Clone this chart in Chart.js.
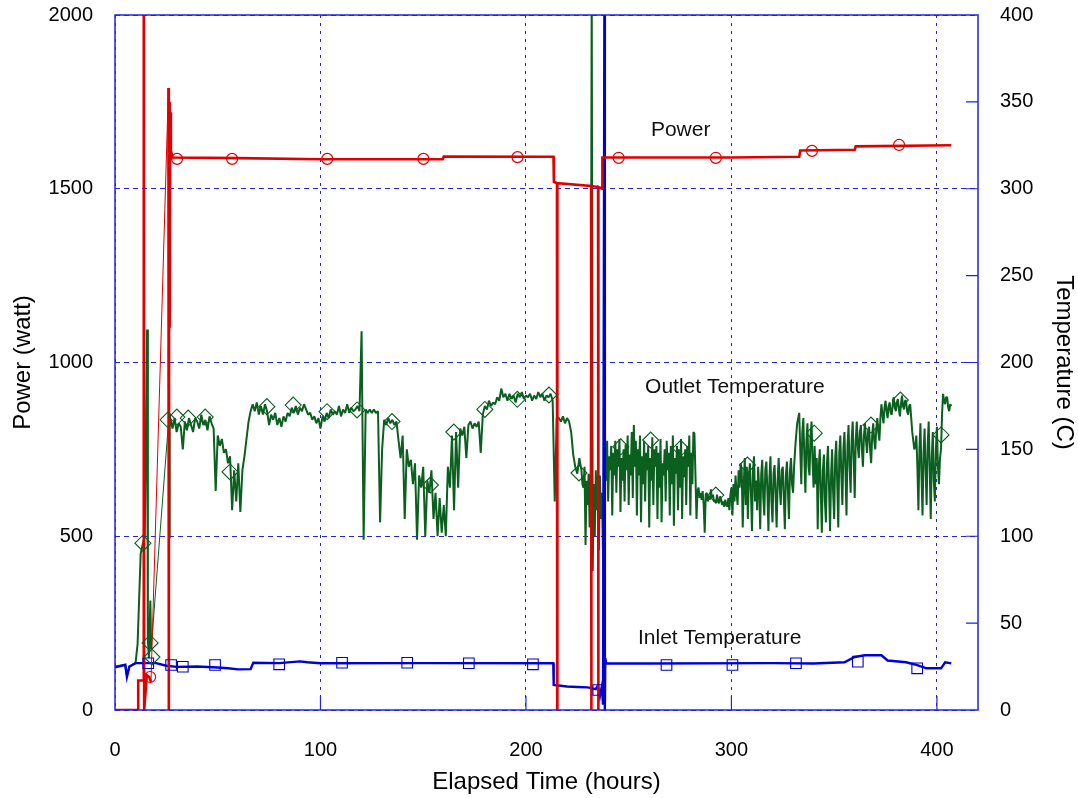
<!DOCTYPE html>
<html>
<head>
<meta charset="utf-8">
<title>Power and temperature</title>
<script src="https://cdn.jsdelivr.net/npm/chart.js@4/dist/chart.umd.min.js"></script>
<style>
body{margin:0;background:#fff;}
#box{width:1078px;height:798px;}
</style>
</head>
<body>
<div id="box"><canvas id="grafico"></canvas></div>
<script>
// tick labels
var xTicks = [0, 100, 200, 300, 400];
var powerTicks = [0, 500, 1000, 1500, 2000];
var tempTicks = [0, 50, 100, 150, 200, 250, 300, 350, 400];

// power (watt), irregular logger points
var powerHours = [0,11.2,11.3,13.8,14.0,14.2,15.5,16.7,17.5,26.0,26.2,26.4,26.6,26.8,27.2,28,60,100,159.5,160,213.4,213.6,215.1,215.2,215.3,231.7,231.8,231.9,235.1,235.2,235.3,237.1,237.2,300,333,333.5,360,360.5,407];
var powerWatt = [0,0,85,85,2300,0,100,95,80,1790,0,1750,1100,1720,1610,1590,1588,1585,1585,1593,1592,1520,1516,0,1516,1508,0,1508,1505,0,1505,1500,1590,1590,1592,1610,1612,1622,1625];

// inlet temperature (C)
var inletHours = [0,5,5.8,7,10,20,25,30,40,50,55,60,66,67.3,80,90,93.6,100,150,213.3,213.5,220,225,230,234,235,236,237,237.5,238.2,238.4,238.6,239,260,320,340,355,360,365,373,376,385,390,395,402,404,407];
var inletTemp = [24.5,26,19,25,27,27,25.5,24.8,25,24.5,24,23.4,23.5,27.2,27,28,27.5,26.9,27,26.9,14.4,13.5,13.2,13,12,14,8,14,3,420,0,30,26.8,26.8,27,26.8,27.5,30.5,31.5,31.5,28.5,27.5,26,24,24,27.5,26.8];

// outlet temperature (C): start-up points
var outletEarlyHours = [0,5,5.8,7,10,11,12.5,13.6,14.5,15.6,16,16.5,17.2,17.6,26,26.2,26.4,26.6];
var outletEarlyTemp = [25,26,20,25,27,38,90,96,100,219,40,30,63,35,165,209,99,170];
// one reading per hour from hour 27 to 227
var outletStartA = 27;
var outletTempA = [
  167,162,168,160,165,163,150,166,161,168, // 27
  164,160,168,166,162,170,164,167,161,169, // 37
  165,162,126,158,152,156,148,150,142,146, // 47
  115,138,120,142,114,138,146,156,166,172, // 57
  176,172,177,170,175,170,176,172,164,170, // 67
  167,171,164,168,163,169,166,171,169,174, // 77
  171,175,170,174,172,176,173,170,171,167, // 87
  169,165,168,162,169,166,171,168,173,170, // 97
  172,170,175,169,173,171,176,171,174,172, // 107
  173,175,172,218,98,173,171,173,171,173,  // 117
  171,172,108,150,167,164,168,165,167,164, // 127
  166,155,145,158,110,150,140,144,130,142, // 137
  98,135,128,140,100,132,125,138,110,125,  // 147
  100,122,102,118,100,140,128,158,115,160, // 157
  128,162,158,163,145,164,166,162,165,163, // 167
  166,148,170,175,173,178,175,177,176,180, // 177
  178,185,180,182,178,182,179,181,177,182, // 187
  180,183,179,181,180,182,178,181,179,183, // 197
  180,182,178,181,180,182,178,120,168,168, // 207
  166,169,165,168,166,160,147,140,136,145, // 217
  138                                      // 227
];
// the noisy part, one reading every half hour from hour 227.5 to 407
var outletStartB = 227.5;
var outletTempB = [
  130,128,140,95,132,118,136,105,125,420,80,130,100,138,115,128,92,135,110,125,88,70,          // 227.5
  150,132,155,120,146,138,152,112,148,135,155,125,150,140,156,114,145,132,150,120,153,138,158,118,147,135,160,122, // 238.5
  164,140,155,112,150,135,158,108,146,130,155,120,148,138,152,105,145,132,157,118,             // 252.5
  150,140,152,110,148,128,156,108,142,135,150,120,155,138,148,112,152,130,158,106,             // 262.5
  145,136,152,115,150,128,156,110,146,134,150,118,152,140,158,112,148,130,160,159,             // 272.5
  135,110,126,128,122,125,121,126,118,102,124,125,120,123,121,127,122,124,120,121,             // 282.5
  119,124,120,119,123,121,118,120,117,121,118,117,                                             // 292.5
  122,115,124,128,112,130,120,135,125,118,138,128,142,138,                                     // 298.5
  105,130,145,118,140,110,135,142,125,103,138,146,120,132,115,140,128,104,136,144,             // 305.5
  122,112,138,143,126,103,134,146,120,108,136,141,124,105,132,145,128,118,138,140,             // 315.5
  122,104,135,143,126,110,138,145,130,125,                                                     // 325.5
  140,150,158,165,168,171,                                                                     // 330.5
  150,130,160,168,145,125,155,165,140,135,158,166,142,128,                                     // 333.5
  152,130,145,104,140,150,125,102,138,147,120,108,142,152,128,103,135,150,125,110,             // 340.5
  145,155,130,105,148,158,135,118,150,160,138,112,152,164,140,125,155,166,145,122,             // 350.5
  155,166,152,145,160,164,150,140,158,165,155,148,160,163,150,142,158,165,155,150,162,168,160,155, // 360.5
  168,176,170,165,174,178,172,168,175,177,171,170,176,180,174,172,177,179,173,169,             // 372.5
  176,181,175,173,178,178,172,170,175,176,                                                     // 382.5
  168,160,155,150,152,158,                                                                     // 387.5
  140,115,150,165,135,112,148,162,138,118,152,166,140,110,145,160,132,120,150,163,             // 390.5
  140,130,145,150,                                                                             // 400.5
  170,182,178,176,180,180,174,172,176,175                                                      // 402.5
];

// marker symbols
var powerMarkHours = [17.1,30.2,57.0,103.3,150.1,195.9,245.1,292.4,339.2,381.6];
var powerMarkWatt = [95,1586,1586,1586,1586,1591,1589,1589,1609,1626];
var outletMarkHours = [13.6,17.1,18.0,25.8,30.1,35.6,43.9,56.0,73.9,86.7,103.2,117.8,134.8,153.5,164.9,180.0,195.8,211.2,225.8,246.1,260.7,275.3,292.4,307.8,340.3,367.9,382.2,402.0];
var outletMarkTemp = [96,38.6,30.5,167,168.6,168,168.6,137,174.6,175.5,171.7,172.7,166,129.5,160,173,178.8,181.3,136.4,151.5,155.4,150.6,123.7,141,159.3,164,178.4,158.3];
var inletMarkHours = [16.2,27.3,33.0,48.7,79.9,110.5,142.2,172.2,203.4,235.2,268.4,300.5,331.4,361.5,390.4];
var inletMarkTemp = [26.9,25.9,24.9,25.9,26.3,27.2,27.2,26.9,26.3,11.5,25.9,25.9,26.9,27.8,24];

// curve names written on the plot, anchored in hours / watts
var noteText = ['Power', 'Outlet Temperature', 'Inlet Temperature'];
var noteHours = [275.3, 301.7, 294.3];
var noteWatt = [1669, 930, 207];

var BLU = '#2323e0';
var ROSSO = '#e10000';
var VERDE = '#0b5f1f';
var BLU_IN = '#0000d8';

function coppie(xs, ys){
	var out = [];
	for (var i = 0; i < xs.length; i++) out.push({x: xs[i], y: ys[i]});
	return out;
}

var outletData = coppie(outletEarlyHours, outletEarlyTemp);
for (var i = 0; i < outletTempA.length; i++) {
	outletData.push({x: outletStartA + i, y: outletTempA[i]});
}
for (var j = 0; j < outletTempB.length; j++) {
	outletData.push({x: outletStartB + j * 0.5, y: outletTempB[j]});
}

// long jumps between far apart points are drawn thin, like the original plot
function sottile(ctx){
	var dx = Math.abs(ctx.p1.x - ctx.p0.x);
	var dy = Math.abs(ctx.p1.y - ctx.p0.y);
	return (dx > 8 && dy > 60) ? 1 : undefined;
}

function intero(v){ return String(v); }

var cornice = {
	id: 'cornice',
	afterDraw: function(chart){
		var c = chart.ctx, a = chart.chartArea;
		var sx = chart.scales.x, st = chart.scales.yT;
		c.save();
		c.strokeStyle = BLU;
		c.lineWidth = 1.5;
		c.setLineDash([]);
		c.strokeRect(a.left, a.top, a.right - a.left, a.bottom - a.top);
		c.lineWidth = 1.2;
		c.beginPath();
		xTicks.forEach(function(v){
			if (v === 0) return;
			var px = sx.getPixelForValue(v);
			c.moveTo(px, a.bottom);
			c.lineTo(px, a.bottom - 14);
		});
		tempTicks.forEach(function(v){
			if (v === 0 || v === 400) return;
			var py = st.getPixelForValue(v);
			c.moveTo(a.right, py);
			c.lineTo(a.right - 12, py);
		});
		c.stroke();
		c.restore();
	}
};

var etichette = {
	id: 'etichette',
	afterDatasetsDraw: function(chart){
		var c = chart.ctx;
		var sx = chart.scales.x, sp = chart.scales.yP;
		c.save();
		c.fillStyle = '#111';
		c.font = '21px "Liberation Sans", Arial, sans-serif';
		c.textAlign = 'center';
		c.textBaseline = 'middle';
		for (var i = 0; i < noteText.length; i++) {
			c.fillText(noteText[i], sx.getPixelForValue(noteHours[i]), sp.getPixelForValue(noteWatt[i]));
		}
		c.restore();
	}
};

Chart.defaults.font.family = '"Liberation Sans", Arial, sans-serif';
Chart.defaults.color = '#000';

var config = {
	type: 'line',
	data: {
		datasets: [
			{label: 'Power marks', data: coppie(powerMarkHours, powerMarkWatt), yAxisID: 'yP', showLine: false,
			 pointStyle: 'circle', pointRadius: 5.5, pointBorderColor: ROSSO, pointBackgroundColor: 'transparent', pointBorderWidth: 1.2, order: 0},
			{label: 'Outlet marks', data: coppie(outletMarkHours, outletMarkTemp), yAxisID: 'yT', showLine: false,
			 pointStyle: 'rectRot', pointRadius: 8, pointBorderColor: VERDE, pointBackgroundColor: 'transparent', pointBorderWidth: 1.1, order: 0},
			{label: 'Inlet marks', data: coppie(inletMarkHours, inletMarkTemp), yAxisID: 'yT', showLine: false,
			 pointStyle: 'rect', pointRadius: 7.5, pointBorderColor: BLU_IN, pointBackgroundColor: 'transparent', pointBorderWidth: 1.1, order: 0},
			{label: 'Power', data: coppie(powerHours, powerWatt), yAxisID: 'yP', borderColor: ROSSO, borderWidth: 2.6,
			 pointRadius: 0, segment: {borderWidth: sottile}, order: 1},
			{label: 'Inlet Temperature', data: coppie(inletHours, inletTemp), yAxisID: 'yT', borderColor: BLU_IN, borderWidth: 2.4,
			 pointRadius: 0, order: 2},
			{label: 'Outlet Temperature', data: outletData, yAxisID: 'yT', borderColor: VERDE, borderWidth: 2,
			 borderJoinStyle: 'bevel', pointRadius: 0, segment: {borderWidth: sottile}, order: 3}
		]
	},
	options: {
		responsive: true,
		maintainAspectRatio: false,
		animation: false,
		layout: {padding: {top: 15}},
		elements: {line: {tension: 0}},
		plugins: {legend: {display: false}, tooltip: {enabled: false}},
		scales: {
			x: {
				type: 'linear', min: 0, max: 420,
				afterBuildTicks: function(s){ s.ticks = xTicks.map(function(v){ return {value: v}; }); },
				afterFit: function(s){ s.height = 88; },
				grid: {color: BLU, lineWidth: 1, drawTicks: false},
				border: {display: false, dash: [3, 5]},
				ticks: {font: {size: 20}, padding: 28, maxRotation: 0, callback: intero},
				title: {display: true, text: 'Elapsed Time (hours)', font: {size: 24}, padding: {top: 1, bottom: 1}}
			},
			yP: {
				position: 'left', min: 0, max: 2000,
				afterBuildTicks: function(s){ s.ticks = powerTicks.map(function(v){ return {value: v}; }); },
				afterFit: function(s){ s.width = 115; },
				grid: {color: BLU, lineWidth: 1, drawTicks: true, tickLength: 22, tickColor: 'rgba(0,0,0,0)'},
				border: {display: false, dash: [5, 4]},
				ticks: {font: {size: 20}, padding: 0, callback: intero},
				title: {display: true, text: 'Power (watt)', font: {size: 24}, padding: {top: 9, bottom: 0}}
			},
			yT: {
				position: 'right', min: 0, max: 400,
				afterBuildTicks: function(s){ s.ticks = tempTicks.map(function(v){ return {value: v}; }); },
				afterFit: function(s){ s.width = 100; },
				grid: {drawOnChartArea: false, drawTicks: true, tickLength: 22, tickColor: 'rgba(0,0,0,0)'},
				border: {display: false},
				ticks: {font: {size: 20}, padding: 0, callback: intero},
				title: {display: true, text: 'Temperature (C)', font: {size: 24}, padding: {top: 0, bottom: 0}}
			}
		}
	},
	plugins: [cornice, etichette]
};

var oggettoGrafico = new Chart(document.getElementById('grafico'), config);
</script>
</body>
</html>
